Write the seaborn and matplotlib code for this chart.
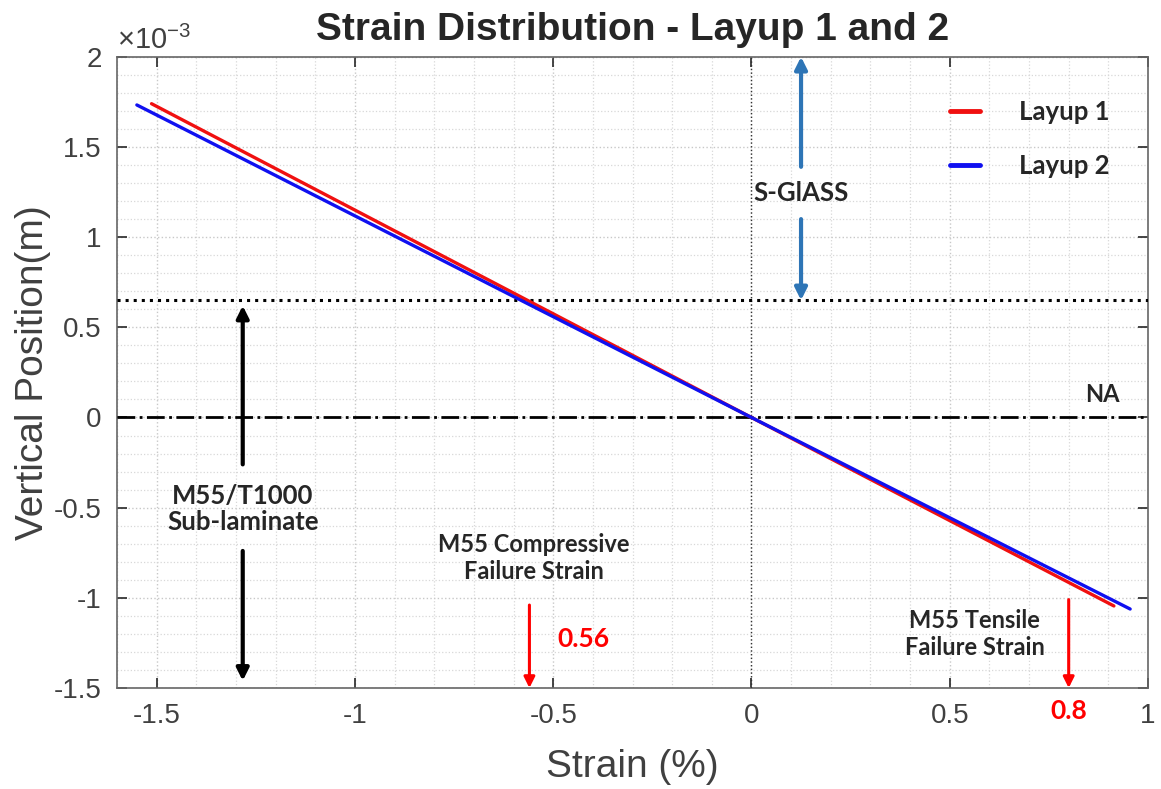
import numpy as np
import pandas as pd
import matplotlib
matplotlib.use("Agg")
import matplotlib.pyplot as plt
import seaborn as sns
from matplotlib.ticker import FuncFormatter, MultipleLocator
from matplotlib.lines import Line2D

# ---- data ----
layup1_strain = [-1.513, 0.0, 0.914]
layup1_pos = [1.740e-3, 0.0, -1.045e-3]
layup2_strain = [-1.550, 0.0, 0.955]
layup2_pos = [1.733e-3, 0.0, -1.062e-3]
series_names = ["Layup 1", "Layup 2"]
interface_pos = 0.65e-3
compressive_fail = -0.56
tensile_fail = 0.8
x_ticks = [-1.5, -1, -0.5, 0, 0.5, 1]
y_ticks = [-1.5e-3, -1e-3, -0.5e-3, 0, 0.5e-3, 1e-3, 1.5e-3, 2e-3]

df = pd.DataFrame({
    "strain": layup1_strain + layup2_strain,
    "pos": layup1_pos + layup2_pos,
    "layup": [series_names[0]] * 3 + [series_names[1]] * 3,
})

sns.set_style("ticks")
plt.rcParams["font.family"] = ["Liberation Sans", "DejaVu Sans"]
plt.rcParams["mathtext.default"] = "regular"

fig = plt.figure(figsize=(11.61, 7.89), dpi=100)
ax = fig.add_axes([0.1008, 0.128, 0.888, 0.800])

red = "#f01010"
blue = "#1010f0"
sns.lineplot(data=df, x="strain", y="pos", hue="layup", palette=[red, blue],
             estimator=None, sort=False, lw=2.4, ax=ax, legend=False, zorder=5)

ax.set_xlim(-1.6, 1.0)
ax.set_ylim(-1.5e-3, 2e-3)
ax.set_xticks(x_ticks)
ax.set_yticks(y_ticks)
ax.xaxis.set_minor_locator(MultipleLocator(0.1))
ax.yaxis.set_minor_locator(MultipleLocator(0.1e-3))
ax.xaxis.set_major_formatter(FuncFormatter(lambda v, p: "%g" % round(v, 6)))
ax.yaxis.set_major_formatter(FuncFormatter(lambda v, p: "%g" % round(v * 1e3, 6)))

ax.grid(which="major", color="#c8c8c8", linestyle=":", linewidth=1.0)
ax.grid(which="minor", color="#d8d8d8", linestyle=":", linewidth=0.9)
ax.tick_params(which="major", direction="in", length=7, width=1.2, top=True, right=True,
               labelsize=20, labelcolor="#404040", color="#262626", pad=11)
ax.tick_params(which="minor", length=0)
for s in ax.spines.values():
    s.set_color("#666666")
    s.set_linewidth(1.2)

ax.set_xlabel("Strain (%)", fontsize=28, color="#404040", labelpad=14)
ax.set_ylabel("Vertical Position(m)", fontsize=28, color="#404040", labelpad=2)
ax.set_title("Strain Distribution - Layup 1 and 2", fontsize=28, fontweight="bold", pad=12)
ax.text(0.0, 1.003, r"$\times10^{-3}$", transform=ax.transAxes, fontsize=21,
        color="#404040", ha="left", va="bottom")

# reference lines
ax.axvline(0, color="#333333", linestyle=":", linewidth=1.0, zorder=3)
ax.axhline(interface_pos, color="black", linestyle=":", linewidth=2.2, zorder=4)
ax.axhline(0, color="black", linestyle="-.", linewidth=2.0, zorder=4)

bfont = dict(family=["Lato", "DejaVu Sans"], fontweight="bold")

# S-Glass arrow
sg_col = "#2e75b6"
ap = dict(arrowstyle="-|>", color=sg_col, lw=3, mutation_scale=18, shrinkA=0, shrinkB=0)
ax.annotate("", xy=(0.125, 2e-3), xytext=(0.125, 1.39e-3), arrowprops=ap)
ax.annotate("", xy=(0.125, interface_pos), xytext=(0.125, 1.10e-3), arrowprops=ap)
ax.text(0.125, 1.245e-3, "S-GlASS", ha="center", va="center", fontsize=18.5, **bfont)

# M55/T1000 arrow
apk = dict(arrowstyle="-|>", color="black", lw=3, mutation_scale=18, shrinkA=0, shrinkB=0)
ax.annotate("", xy=(-1.283, 0.62e-3), xytext=(-1.283, -0.26e-3), arrowprops=apk)
ax.annotate("", xy=(-1.283, -1.46e-3), xytext=(-1.283, -0.74e-3), arrowprops=apk)
ax.text(-1.283, -0.51e-3, "M55/T1000\nSub-laminate", ha="center", va="center",
        fontsize=18.5, linespacing=1.1, **bfont)

# failure strains
apr = dict(arrowstyle="-|>", color="#ff0000", lw=2.2, mutation_scale=16, shrinkA=0, shrinkB=0)
ax.annotate("", xy=(compressive_fail, -1.5e-3), xytext=(compressive_fail, -1.04e-3), arrowprops=apr)
ax.text(-0.548, -0.78e-3, "M55 Compressive\nFailure Strain", ha="center", va="center",
        fontsize=17, linespacing=1.2, **bfont)
ax.text(-0.49, -1.23e-3, "0.56", ha="left", va="center", color="#ff0000", fontsize=19, **bfont)

ax.annotate("", xy=(tensile_fail, -1.5e-3), xytext=(tensile_fail, -1.01e-3), arrowprops=apr)
ax.text(0.563, -1.2e-3, "M55 Tensile\nFailure Strain", ha="center", va="center",
        fontsize=17, linespacing=1.2, **bfont)
ax.text(tensile_fail, -1.63e-3, "0.8", ha="center", va="center", color="#ff0000",
        fontsize=19, clip_on=False, **bfont)

ax.text(0.885, 0.13e-3, "NA", ha="center", va="center", fontsize=17, **bfont)

handles = [Line2D([], [], color=red, lw=3.5), Line2D([], [], color=blue, lw=3.5)]
leg = ax.legend(handles, series_names, loc="upper right", bbox_to_anchor=(0.985, 0.968),
                frameon=False, handlelength=1.2, handletextpad=1.5, labelspacing=1.15,
                prop=dict(family=["Lato", "DejaVu Sans"], weight="bold", size=18.5))

fig.savefig("out.png", dpi=100)
